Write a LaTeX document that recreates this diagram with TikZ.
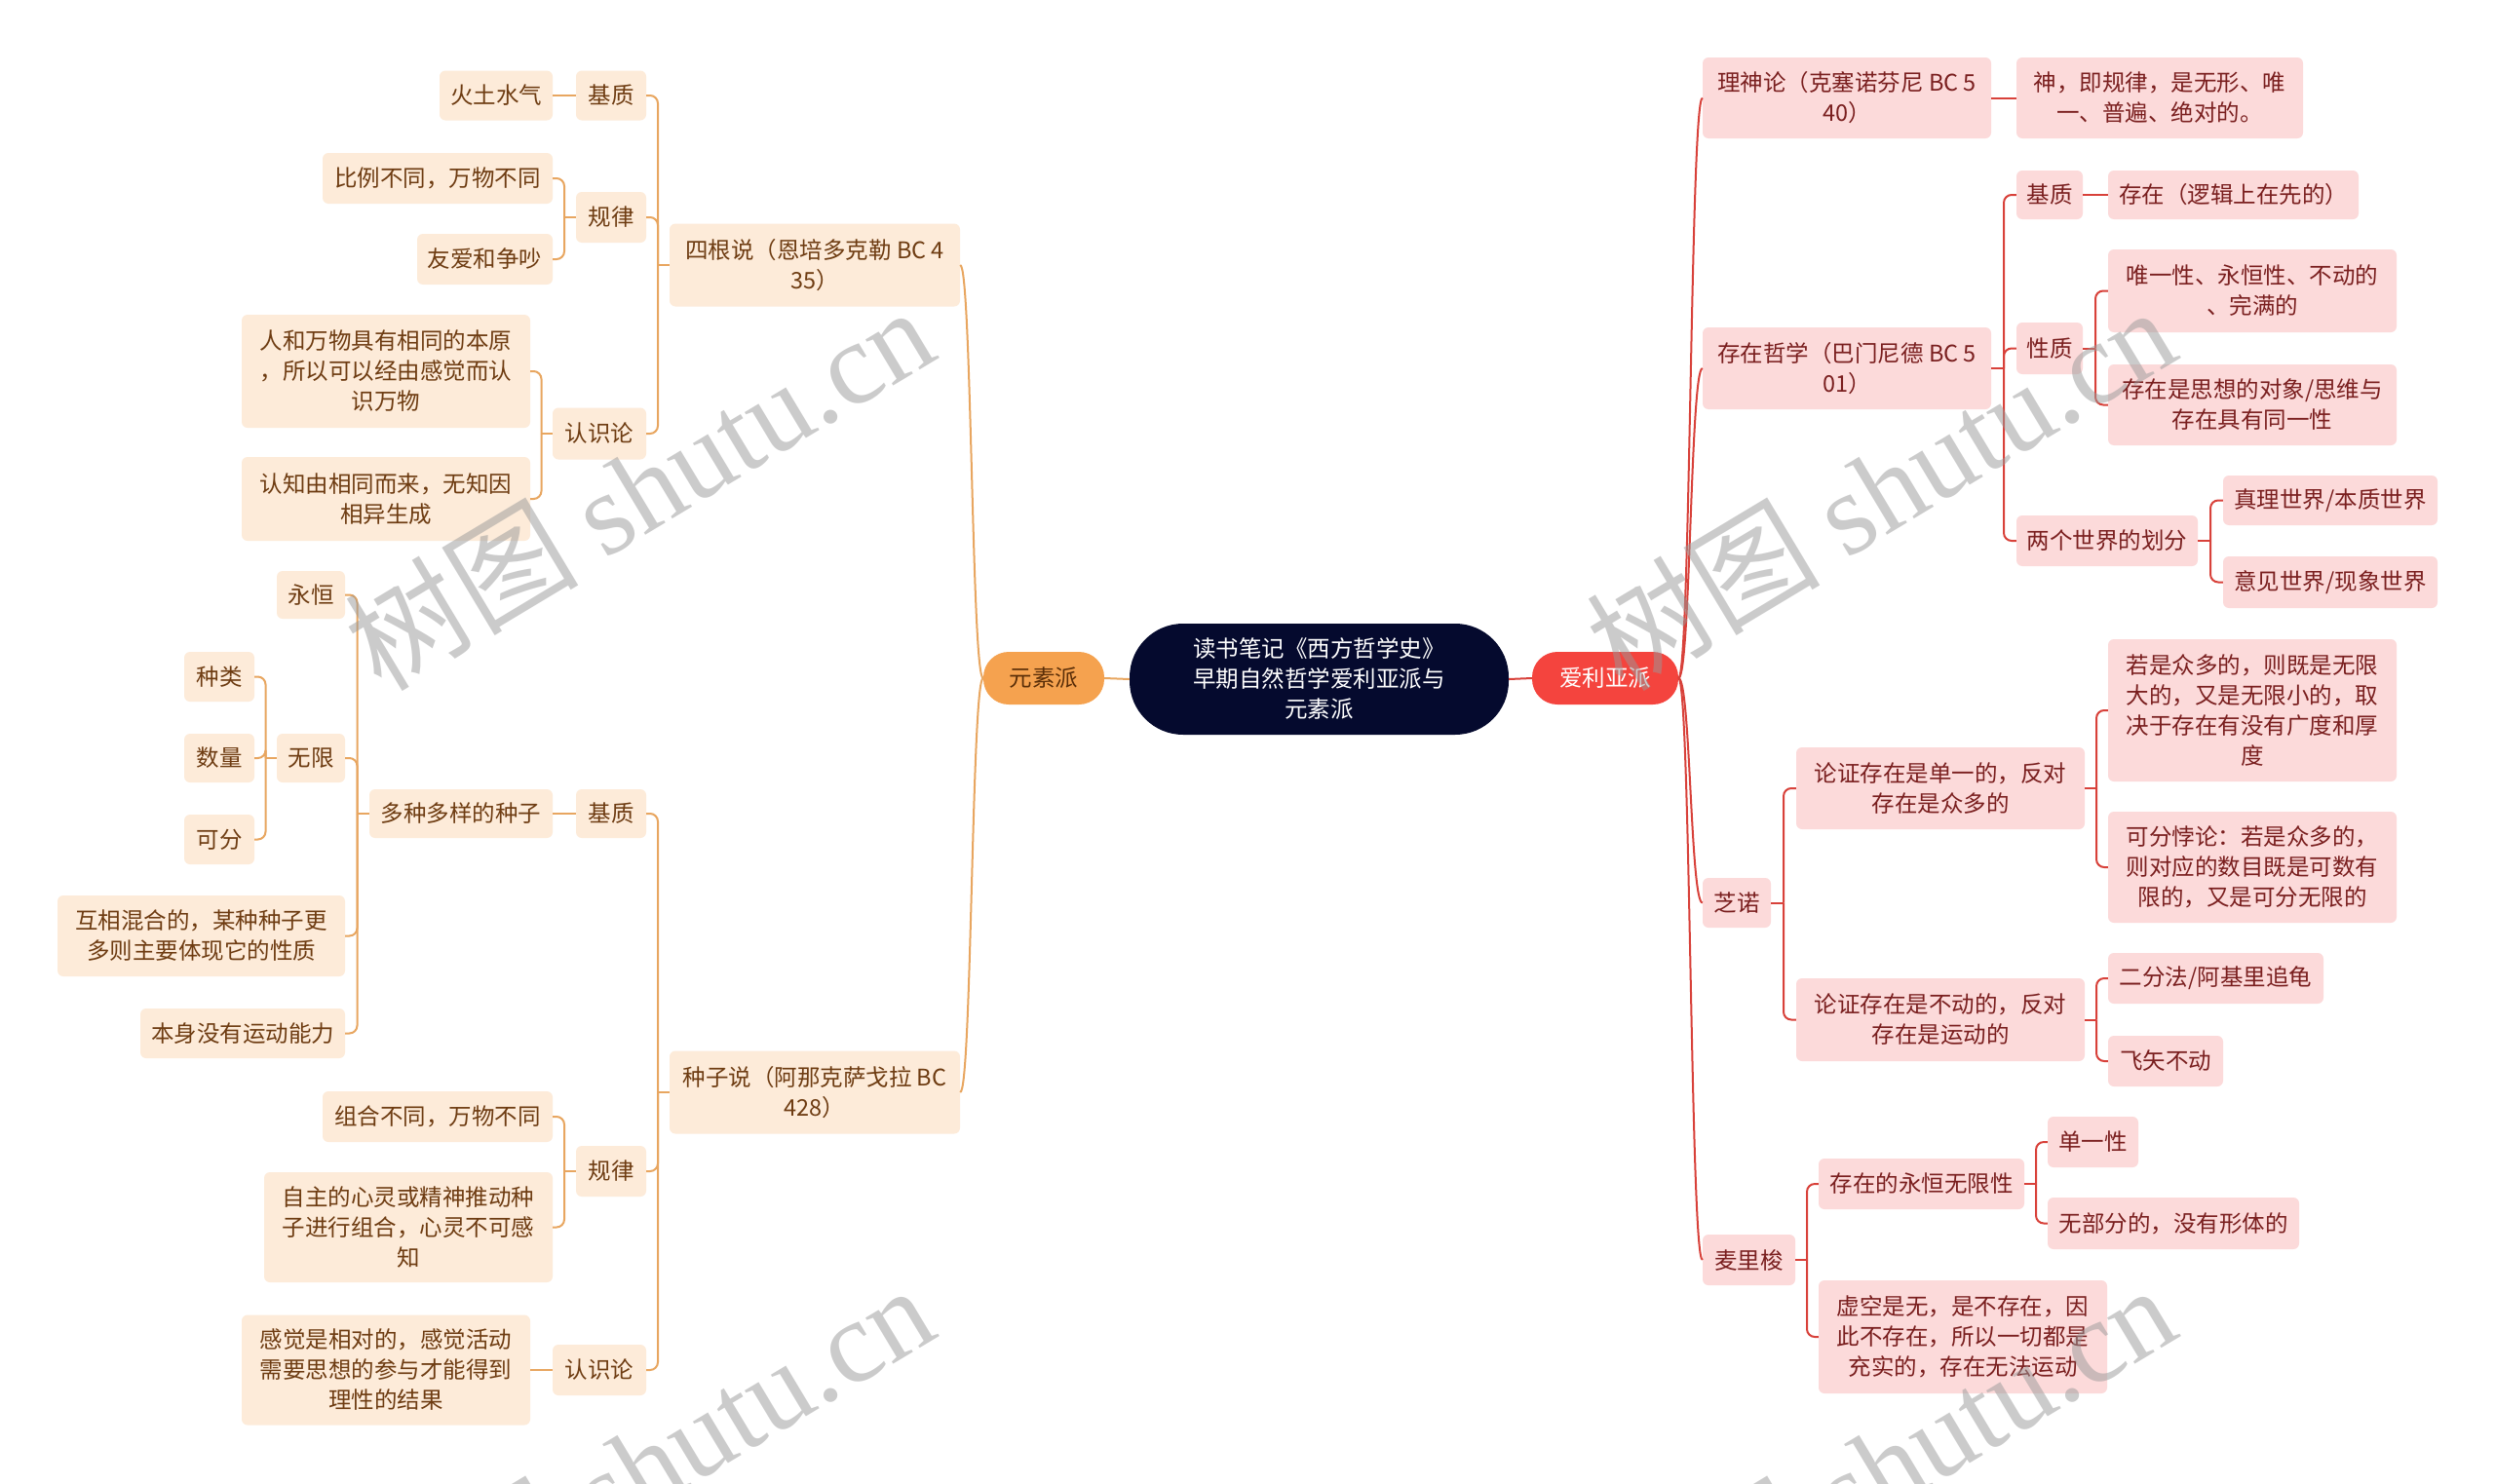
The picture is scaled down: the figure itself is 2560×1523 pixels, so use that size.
\documentclass[tikz,border=0pt]{standalone}
\usepackage{fontspec}
\setmainfont{Noto Sans CJK SC}
\newfontfamily\cjkwm{Noto Sans CJK SC}
\newfontfamily\wmserif{Liberation Serif}
\usetikzlibrary{calc}
\definecolor{lfill}{HTML}{FDEBD9}
\definecolor{ltext}{HTML}{6E3C12}
\definecolor{lline}{HTML}{E8A660}
\definecolor{rfill}{HTML}{FCDADA}
\definecolor{rtext}{HTML}{7A1F1F}
\definecolor{rline}{HTML}{D8413A}
\definecolor{cfill}{HTML}{050A2E}
\definecolor{yfill}{HTML}{F5A24F}
\definecolor{ytext}{HTML}{5A2E08}
\definecolor{afill}{HTML}{F4443E}
\tikzset{
  basebox/.style={rounded corners=6pt, align=center, inner sep=0pt,
    font=\fontsize{23.5}{31}\selectfont},
  lbox/.style={basebox, fill=lfill, text=ltext},
  rbox/.style={basebox, fill=rfill, text=rtext},
  llink/.style={draw=lline, line width=2pt},
  rlink/.style={draw=rline, line width=2pt},
  wm/.style={text=black!40, text opacity=0.5, font=\fontsize{120}{130}\selectfont, inner sep=0pt},
}
\newcommand\bx[6]{\node[#1, minimum width=#4pt, minimum height=#5pt] (#2) at (#3) {#6};}
\newcommand\lk[2]{%
  \path let \p1=(#1.west), \p2=(#2.east) in ({(\x1+\x2)/2},\y1) coordinate (tt);
  \draw[llink] (#1.west) -- (tt);
  \draw[llink, rounded corners=8pt] (tt) |- (#2.east);}
\newcommand\rk[2]{%
  \path let \p1=(#1.east), \p2=(#2.west) in ({(\x1+\x2)/2},\y1) coordinate (tt);
  \draw[rlink] (#1.east) -- (tt);
  \draw[rlink, rounded corners=8pt] (tt) |- (#2.west);}
\begin{document}
\begin{tikzpicture}[x=1pt,y=-1pt]
\useasboundingbox (0,0) rectangle (2560,1523);
\fill[white] (0,0) rectangle (2560,1523);

% centre
\node[basebox, rounded corners=55pt, fill=cfill, text=white, minimum width=389pt, minimum height=114pt] (root) at (1353.5,697) {读书笔记《西方哲学史》\\早期自然哲学爱利亚派与\\元素派};
\node[basebox, rounded corners=26pt, fill=yfill, text=ytext, minimum width=124pt, minimum height=54pt] (yuan) at (1071,696) {元素派};
\node[basebox, rounded corners=26pt, fill=afill, text=white, minimum width=150pt, minimum height=54pt] (aili) at (1647,696) {爱利亚派};

% left side
\bx{lbox}{sigen}{836,272}{298}{85}{四根说（恩培多克勒 BC 4\\35）}
\bx{lbox}{zhongzi}{836,1121}{298}{85}{种子说（阿那克萨戈拉 BC\\428）}
\bx{lbox}{jz1}{627,98}{72}{51}{基质}
\bx{lbox}{gl1}{627,223}{72}{52}{规律}
\bx{lbox}{rs1}{615,445}{96}{53}{认识论}
\bx{lbox}{a1}{509,98}{116}{51}{火土水气}
\bx{lbox}{a2}{449,183}{236}{52}{比例不同，万物不同}
\bx{lbox}{a3}{497.5,266}{139}{52}{友爱和争吵}
\bx{lbox}{a4}{396,381}{296}{116}{人和万物具有相同的本原\\，所以可以经由感觉而认\\识万物}
\bx{lbox}{a5}{396,512}{296}{86}{认知由相同而来，无知因\\相异生成}
\bx{lbox}{jz2}{627,835}{72}{50}{基质}
\bx{lbox}{gl2}{627,1202}{72}{52}{规律}
\bx{lbox}{rs2}{615,1406}{96}{52}{认识论}
\bx{lbox}{b1}{473,835}{188}{50}{多种多样的种子}
\bx{lbox}{b2}{449,1146}{236}{52}{组合不同，万物不同}
\bx{lbox}{b3}{419,1259.5}{296}{113}{自主的心灵或精神推动种\\子进行组合，心灵不可感\\知}
\bx{lbox}{b4}{396,1406}{296}{113}{感觉是相对的，感觉活动\\需要思想的参与才能得到\\理性的结果}
\bx{lbox}{c1}{319,610.5}{70}{49}{永恒}
\bx{lbox}{c2}{319,778}{70}{50}{无限}
\bx{lbox}{c3}{206.5,960.5}{295}{83}{互相混合的，某种种子更\\多则主要体现它的性质}
\bx{lbox}{c4}{249,1060.5}{210}{51}{本身没有运动能力}
\bx{lbox}{d1}{225,694.5}{72}{51}{种类}
\bx{lbox}{d2}{225,778}{72}{50}{数量}
\bx{lbox}{d3}{225,861.5}{72}{51}{可分}

% right side
\bx{rbox}{ls}{1895,100.5}{296}{83}{理神论（克塞诺芬尼 BC 5\\40）}
\bx{rbox}{cz}{1895,378}{296}{84}{存在哲学（巴门尼德 BC 5\\01）}
\bx{rbox}{zn}{1782,926.5}{70}{51}{芝诺}
\bx{rbox}{ml}{1794.5,1293}{95}{52}{麦里梭}
\bx{rbox}{e1}{2216,100.5}{294}{83}{神，即规律，是无形、唯\\一、普遍、绝对的。}
\bx{rbox}{f1}{2103,200}{68}{50}{基质}
\bx{rbox}{f2}{2103,357.5}{68}{53}{性质}
\bx{rbox}{f3}{2162,555}{186}{52}{两个世界的划分}
\bx{rbox}{g1}{2291.5,200}{257}{50}{存在（逻辑上在先的）}
\bx{rbox}{g2}{2311,298.5}{296}{85}{唯一性、永恒性、不动的\\、完满的}
\bx{rbox}{g3}{2311,415.5}{296}{83}{存在是思想的对象/思维与\\存在具有同一性}
\bx{rbox}{g4}{2391,513.5}{220}{51}{真理世界/本质世界}
\bx{rbox}{g5}{2391,597.5}{220}{53}{意见世界/现象世界}
\bx{rbox}{h1}{1991,809}{296}{84}{论证存在是单一的，反对\\存在是众多的}
\bx{rbox}{h2}{1991,1046.5}{296}{85}{论证存在是不动的，反对\\存在是运动的}
\bx{rbox}{i1}{2311,729}{296}{146}{若是众多的，则既是无限\\大的，又是无限小的，取\\决于存在有没有广度和厚\\度}
\bx{rbox}{i2}{2311,890}{296}{114}{可分悖论：若是众多的，\\则对应的数目既是可数有\\限的，又是可分无限的}
\bx{rbox}{i3}{2273.5,1004}{221}{52}{二分法/阿基里追龟}
\bx{rbox}{i4}{2222,1089}{118}{52}{飞矢不动}
\bx{rbox}{j1}{1971.5,1215}{211}{52}{存在的永恒无限性}
\bx{rbox}{j2}{2014,1372}{296}{116}{虚空是无，是不存在，因\\此不存在，所以一切都是\\充实的，存在无法运动}
\bx{rbox}{k1}{2147.5,1172}{93}{52}{单一性}
\bx{rbox}{k2}{2230,1255.5}{258}{53}{无部分的，没有形体的}

% left connectors
\draw[llink] (root.west) -- (yuan.east);
\draw[llink] (yuan.west) .. controls +(-12,0) and +(12,0) .. (sigen.east);
\draw[llink] (yuan.west) .. controls +(-12,0) and +(12,0) .. (zhongzi.east);
\lk{sigen}{jz1}
\lk{sigen}{gl1}
\lk{sigen}{rs1}
\draw[llink] (jz1.west) -- (a1.east);
\lk{gl1}{a2}
\lk{gl1}{a3}
\lk{rs1}{a4}
\lk{rs1}{a5}
\lk{zhongzi}{jz2}
\lk{zhongzi}{gl2}
\lk{zhongzi}{rs2}
\draw[llink] (jz2.west) -- (b1.east);
\lk{gl2}{b2}
\lk{gl2}{b3}
\draw[llink] (rs2.west) -- (b4.east);
\lk{b1}{c1}
\lk{b1}{c2}
\lk{b1}{c3}
\lk{b1}{c4}
\lk{c2}{d1}
\lk{c2}{d2}
\lk{c2}{d3}

% right connectors
\draw[rlink] (root.east) -- (aili.west);
\draw[rlink] (aili.east) .. controls +(12.5,0) and +(-12.5,0) .. (ls.west);
\draw[rlink] (aili.east) .. controls +(12.5,0) and +(-12.5,0) .. (cz.west);
\draw[rlink] (aili.east) .. controls +(12.5,0) and +(-12.5,0) .. (zn.west);
\draw[rlink] (aili.east) .. controls +(12.5,0) and +(-12.5,0) .. (ml.west);
\draw[rlink] (ls.east) -- (e1.west);
\rk{cz}{f1}
\rk{cz}{f2}
\rk{cz}{f3}
\draw[rlink] (f1.east) -- (g1.west);
\rk{f2}{g2}
\rk{f2}{g3}
\rk{f3}{g4}
\rk{f3}{g5}
\rk{zn}{h1}
\rk{zn}{h2}
\rk{h1}{i1}
\rk{h1}{i2}
\rk{h2}{i3}
\rk{h2}{i4}
\rk{ml}{j1}
\rk{ml}{j2}
\rk{j1}{k1}
\rk{j1}{k2}

% watermark
\begin{scope}
\clip (0,0) rectangle (2560,1523);
\foreach \dx in {0,1274} {
  \foreach \dy in {0,1004} {
    \node[wm, rotate=31] (wm\dx\dy) at (655+\dx,500+\dy) {{\cjkwm 树图} {\wmserif shutu.cn}};
  }
}
\end{scope}
\end{tikzpicture}
\end{document}
